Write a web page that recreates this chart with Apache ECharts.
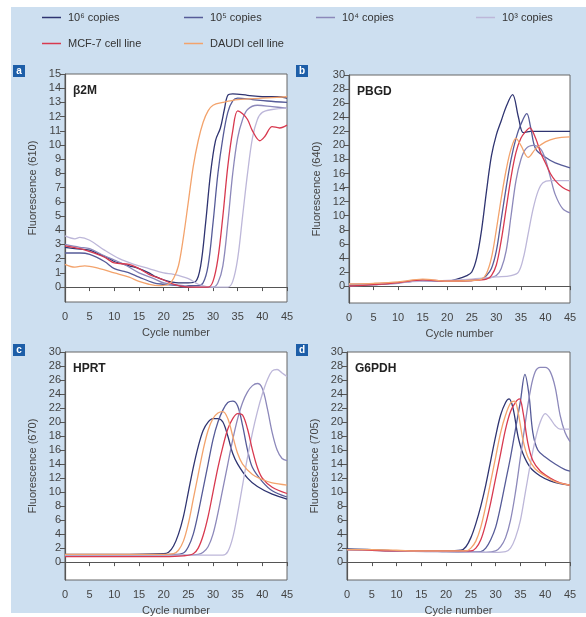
<!DOCTYPE html>
<html>
<head>
<meta charset="utf-8">
<script src="https://cdn.jsdelivr.net/npm/echarts@6/dist/echarts.min.js"></script>
<style>
  html, body { margin: 0; padding: 0; background: #fff; }
  #chart { width: 586px; height: 617px; }
</style>
</head>
<body>
<div id="chart"></div>
<script>
// legend / series names
const seriesNames = ['10⁶ copies', '10⁵ copies', '10⁴ copies', '10³ copies', 'MCF-7 cell line', 'DAUDI cell line'];
const geneNames = ['β2M', 'PBGD', 'HPRT', 'G6PDH'];
const yAxisNames = ['Fluorescence (610)', 'Fluorescence (640)', 'Fluorescence (670)', 'Fluorescence (705)'];
const panelLetters = ['a', 'b', 'c', 'd'];

const cycleTicks = [0, 5, 10, 15, 20, 25, 30, 35, 40, 45];
const yTicksA = [0, 1, 2, 3, 4, 5, 6, 7, 8, 9, 10, 11, 12, 13, 14, 15];
const yTicksB = [0, 2, 4, 6, 8, 10, 12, 14, 16, 18, 20, 22, 24, 26, 28, 30];

// panel a: beta2M  [cycle, fluorescence]
const a6 = [[0,2.8],[2,2.7],[5,2.6],[7,2.3],[9,2.0],[10,1.8],[12,1.6],[13,1.5],[15,1.3],[17,1.0],[18,0.8],[20,0.5],[23,0.3],[25,0.3],[26.5,0.4],[27.5,1.5],[28.5,4.5],[29.5,8],[30.5,10.3],[31.5,11.2],[32.3,12.5],[33,13.5],[34,13.6],[37,13.5],[40,13.4],[43,13.4],[45,13.3]];
const a5 = [[0,2.4],[3,2.4],[5,2.3],[8,1.8],[10,1.3],[12,1.1],[13,1.0],[15,0.7],[18,0.3],[20,0.2],[23,0.1],[24,0],[25,0.1],[27,0.1],[28,0.3],[29,1.5],[30,4.5],[31,8],[32,10.5],[33,12.3],[34,13.1],[35,13.3],[38,13.2],[41,13.1],[45,13.0]];
const a4 = [[0,3.0],[3,2.8],[5,2.7],[8,2.2],[10,1.9],[12,1.6],[15,1.0],[18,0.6],[20,0.3],[24,0.1],[27,0],[30,0],[31,0.3],[32,1.5],[33,4.5],[34,8],[35,10.5],[36,11.8],[37,12.5],[39,12.8],[42,12.7],[45,12.6]];
const a3 = [[0,3.6],[2,3.4],[3,3.5],[5,3.3],[8,2.6],[11,2.0],[14,1.6],[17,1.3],[20,1.0],[22,0.9],[25,0.6],[27,0.2],[30,0],[33,0],[34,0.4],[35,2],[36,5],[37,8],[38,10.5],[39,11.8],[40,12.3],[42,12.5],[45,12.6]];
const aMcf = [[0,2.9],[3,2.7],[5,2.5],[8,2.1],[10,1.7],[13,1.6],[15,1.3],[17,0.9],[20,0.5],[22,0.2],[25,0],[29,0],[30,0.4],[31,2],[32,5],[33,8.5],[34,11],[35,12.4],[36,12.2],[37,11.8],[38,11],[39.5,10.3],[40.5,10.6],[42,11.3],[43.5,11.2],[45,11.4]];
const aDaudi = [[0,1.6],[2,1.4],[4,1.5],[7,1.3],[10,1.0],[13,0.7],[15,0.4],[17,0.2],[19,0.1],[21,0.2],[22,0.6],[23,1.5],[24,3.5],[25,6],[26,8.5],[27,10.3],[28,11.6],[29,12.4],[30,12.8],[32,13.0],[35,13.2],[40,13.3],[45,13.4]];

// panel b: PBGD
const b6 = [[0,0.2],[5,0.3],[10,0.5],[15,0.8],[18,0.7],[20,0.7],[22,1],[24,1.5],[25,2],[26,4],[27,8],[28,13.5],[29,18.5],[30,21.5],[31,23.5],[32,25.5],[33.3,27.2],[34.5,24],[35.5,21.8],[37,22],[40,22],[45,22]];
const b5 = [[0,0.1],[5,0.2],[10,0.5],[15,0.8],[20,0.7],[25,0.8],[27,1],[28,1.5],[29,2.5],[30,5],[31,9.5],[32,14],[33,18],[34,21],[35,23],[36.2,24.5],[37,22.5],[38,19.5],[40,18.3],[42,17.5],[45,16.8]];
const b4 = [[0,0],[5,0.2],[10,0.4],[15,0.8],[20,0.7],[25,0.9],[28,1.1],[30,1.5],[31,2.5],[32,5],[33,10],[34,15],[35,18],[36,19.5],[37.5,20],[39,19.5],[40,18],[41,15.5],[42,13],[43.5,11],[45,10.4]];
const b3 = [[0,0.3],[5,0.3],[10,0.5],[15,0.7],[20,0.8],[25,1],[30,1.3],[33,1.5],[34.5,2],[35.5,4],[36.5,7.5],[37.5,11],[38.5,13.5],[39.5,14.7],[41,15],[45,15]];
const bMcf = [[0,0],[5,0.2],[10,0.5],[15,0.9],[20,0.7],[25,0.8],[28,1],[29,1.5],[30,3],[31,6.5],[32,11],[33,15.5],[34,19],[35,21],[36,22],[36.8,22.5],[38,21],[39,19],[40,17.5],[41,16],[42,15],[43.5,14],[45,13.5]];
const bDaudi = [[0,0.3],[5,0.4],[10,0.6],[15,1],[20,0.7],[25,0.8],[27,1],[28,1.8],[29,4],[30,8],[31,12.5],[32,16.5],[33,19.5],[34,21],[35,20],[36.5,18.3],[38,19.5],[40,20.5],[42,21],[45,21.2]];

// panel c: HPRT
const c6 = [[0,1.1],[10,1.1],[20,1.2],[21,1.4],[22,2.3],[23,4],[24,6.5],[25,10],[26,13.5],[27,16.5],[28,18.8],[29,20],[30,20.5],[31,20.5],[32,20],[33,18],[34,15.5],[35,14],[37,12],[39,10.8],[42,9.7],[45,9]];
const c5 = [[0,1],[10,1],[22,1.1],[24,1.3],[25,2.2],[26,4],[27,7],[28,10.5],[29,14],[30,17.5],[31,20],[32,21.7],[33,22.8],[34,23],[35,22.3],[36,19.5],[37,16],[38,13.5],[40,11.5],[42,10.2],[45,9.3]];
const c4 = [[0,1],[10,1],[20,1],[25,1],[27,1.1],[28,1.4],[29,2.2],[30,4],[31,7],[32,10.5],[33,14],[34,17.5],[35,20.5],[36,22.8],[37,24.3],[38,25.2],[39,25.5],[40,24.8],[41,22],[42,18.5],[43,16],[44,14.8],[45,14.5]];
const c3 = [[0,1],[10,1],[20,1],[30,1],[32,1],[33,1.5],[34,3.5],[35,7],[36,11],[37,15],[38,18.5],[39,21.5],[40,24],[41,26],[42,27.3],[43,27.5],[44,27],[45,26.5]];
const cMcf = [[0,0.8],[10,0.8],[20,0.8],[24,0.9],[26,1.2],[27,2],[28,3.8],[29,6.5],[30,10],[31,13.5],[32,16.5],[33,19],[34,20.5],[35,21.2],[36,21],[37,19],[38,16],[39,13.5],[40,12],[42,10.7],[45,9.8]];
const cDaudi = [[0,1.1],[10,1.1],[20,1.1],[22,1.2],[23,1.7],[24,3],[25,5.5],[26,9],[27,12.5],[28,16],[29,18.8],[30,20.5],[31,21.3],[32,21.5],[33,20.5],[34,18],[35,15.5],[36,14],[38,12.5],[40,11.8],[42,11.3],[45,11]];

// panel d: G6PDH
const d6 = [[0,1.9],[5,1.8],[10,1.6],[15,1.6],[20,1.6],[23,1.7],[24,2.2],[25,3.5],[26,5.5],[27,8],[28,11],[29,14.5],[30,18],[31,21],[32,22.8],[32.7,23.3],[33.5,22],[34.5,18],[35.5,15.5],[37,13.5],[39,12.3],[41,11.6],[43,11.2],[45,11]];
const d5 = [[0,1.8],[5,1.7],[10,1.6],[15,1.6],[20,1.5],[25,1.4],[27,1.5],[28,2],[29,3.2],[30,5],[31,8],[32,11.5],[33,15],[34,19],[35,23],[35.9,26.8],[36.7,24],[37.5,18.5],[38.5,16],[40,15],[42,14],[44,13.2],[45,13]];
const d4 = [[0,1.8],[10,1.6],[20,1.5],[25,1.5],[28,1.4],[30,1.6],[31,2.2],[32,3.5],[33,6],[34,10],[35,15],[36,20],[37,24.5],[38,27.2],[39,27.8],[40,27.8],[41,27.2],[42,25],[43,21],[44,18.5],[45,17.2]];
const d3 = [[0,1.8],[10,1.6],[20,1.5],[25,1.4],[30,1.4],[32,1.5],[33,2],[34,3.5],[35,6],[36,10],[37,14],[38,17.5],[39,20],[40,21.2],[41,20.5],[42,19.5],[43,19],[45,19]];
const dMcf = [[0,1.8],[5,1.7],[10,1.6],[15,1.6],[20,1.6],[25,1.6],[26,2],[27,3.2],[28,5.5],[29,8.5],[30,12],[31,15.5],[32,19],[33,21.5],[34,22.8],[34.8,23.3],[35.5,21.5],[36.5,17],[37.5,14.5],[39,13],[41,12],[43,11.3],[45,11]];
const dDaudi = [[0,1.8],[5,1.8],[10,1.7],[15,1.6],[20,1.6],[24,1.6],[25,2],[26,3],[27,5],[28,8],[29,11.5],[30,15],[31,18.5],[32,21],[33,22.7],[33.8,23],[34.5,21.5],[35.5,17.5],[36.5,15],[38,13.3],[40,12.3],[42,11.5],[45,11]];

const panelData = [
  [a6, a5, a4, a3, aMcf, aDaudi],
  [b6, b5, b4, b3, bMcf, bDaudi],
  [c6, c5, c4, c3, cMcf, cDaudi],
  [d6, d5, d4, d3, dMcf, dDaudi]
];

const colors = ['#2f3471', '#565b98', '#8c88ba', '#bdb7d9', '#d8394f', '#f3a36c'];

// plot boxes in pixels
const boxes = [
  { left: 65, top: 74, width: 222, height: 228, yMin: -1.05, yMax: 15, ticks: yTicksA },
  { left: 349, top: 75, width: 221, height: 228, yMin: -2.4, yMax: 30, ticks: yTicksB },
  { left: 65, top: 352, width: 222, height: 230, yMin: -2.55, yMax: 30, ticks: yTicksB },
  { left: 347, top: 352, width: 223, height: 230, yMin: -2.55, yMax: 30, ticks: yTicksB }
];

const textColor = '#444';
const font = '"Liberation Sans Narrow", "Liberation Sans", Arial, sans-serif';

const chart = echarts.init(document.getElementById('chart'), null, { renderer: 'canvas' });

const grid = boxes.map(b => ({
  left: b.left, top: b.top, width: b.width, height: b.height,
  show: true, backgroundColor: '#fff', borderColor: '#666', borderWidth: 1
}));

const xAxis = boxes.map((b, i) => ({
  type: 'value', gridIndex: i, min: 0, max: 45, interval: 5,
  name: 'Cycle number', nameLocation: 'middle', nameGap: 25,
  nameTextStyle: { color: textColor, fontSize: 11, fontFamily: font },
  axisLine: { lineStyle: { color: '#555', width: 1.2 } },
  axisTick: { length: 4, customValues: cycleTicks, lineStyle: { color: '#555' } },
  axisLabel: { color: textColor, fontSize: 11, fontFamily: font, margin: 9, customValues: cycleTicks },
  splitLine: { show: false }
}));

const yAxis = boxes.map((b, i) => ({
  type: 'value', gridIndex: i, min: b.yMin, max: b.yMax,
  name: yAxisNames[i], nameLocation: 'middle', nameGap: 27,
  nameTextStyle: { color: textColor, fontSize: 11, fontFamily: font },
  axisLine: { show: true, lineStyle: { color: '#555', width: 1.2 } },
  axisTick: { show: true, length: 5, customValues: b.ticks, lineStyle: { color: '#555' } },
  axisLabel: { color: textColor, fontSize: 11, fontFamily: font, margin: 4, customValues: b.ticks },
  splitLine: { show: false }
}));

const series = [];
panelData.forEach((lines, p) => {
  lines.forEach((pts, k) => {
    series.push({
      name: seriesNames[k], type: 'line', xAxisIndex: p, yAxisIndex: p,
      data: pts, smooth: 0.35, showSymbol: false, symbol: 'none',
      lineStyle: { color: colors[k], width: 1.3 },
      itemStyle: { color: colors[k] },
      z: k >= 4 ? 3 : 2
    });
  });
});

const legendSpots = [
  { left: 42, top: 12 }, { left: 184, top: 12 }, { left: 316, top: 12 }, { left: 476, top: 12 },
  { left: 42, top: 38 }, { left: 184, top: 38 }
];
const legend = seriesNames.map((n, k) => ({
  data: [n], left: legendSpots[k].left, top: legendSpots[k].top,
  icon: 'rect', itemWidth: 19, itemHeight: 1.5, itemGap: 4,
  selectedMode: false, padding: 0,
  textStyle: { color: '#333', fontSize: 11, fontFamily: font, padding: [0, 0, 0, 2] }
}));

const labelSpots = [[13, 65], [296, 65], [13, 344], [296, 344]];
const graphic = [
  { type: 'rect', z: -10, silent: true, shape: { x: 11, y: 7, width: 575, height: 606 }, style: { fill: '#cddff0' } }
];
labelSpots.forEach((s, i) => {
  graphic.push({ type: 'rect', shape: { x: s[0], y: s[1], width: 12, height: 12 }, style: { fill: '#1d5ea8' } });
  graphic.push({ type: 'text', x: s[0] + 6, y: s[1] + 6, style: { text: panelLetters[i], fill: '#fff', fontSize: 10, fontWeight: 'bold', fontFamily: 'Arial, sans-serif', align: 'center', verticalAlign: 'middle' } });
  graphic.push({ type: 'text', x: boxes[i].left + 8, y: boxes[i].top + 17, style: { text: geneNames[i], fill: '#222', fontSize: 12, fontWeight: 'bold', fontFamily: 'Arial, sans-serif', verticalAlign: 'middle' } });
});

chart.setOption({
  animation: false,
  backgroundColor: '#fff',
  grid, xAxis, yAxis, series, legend, graphic
});
</script>
</body>
</html>
